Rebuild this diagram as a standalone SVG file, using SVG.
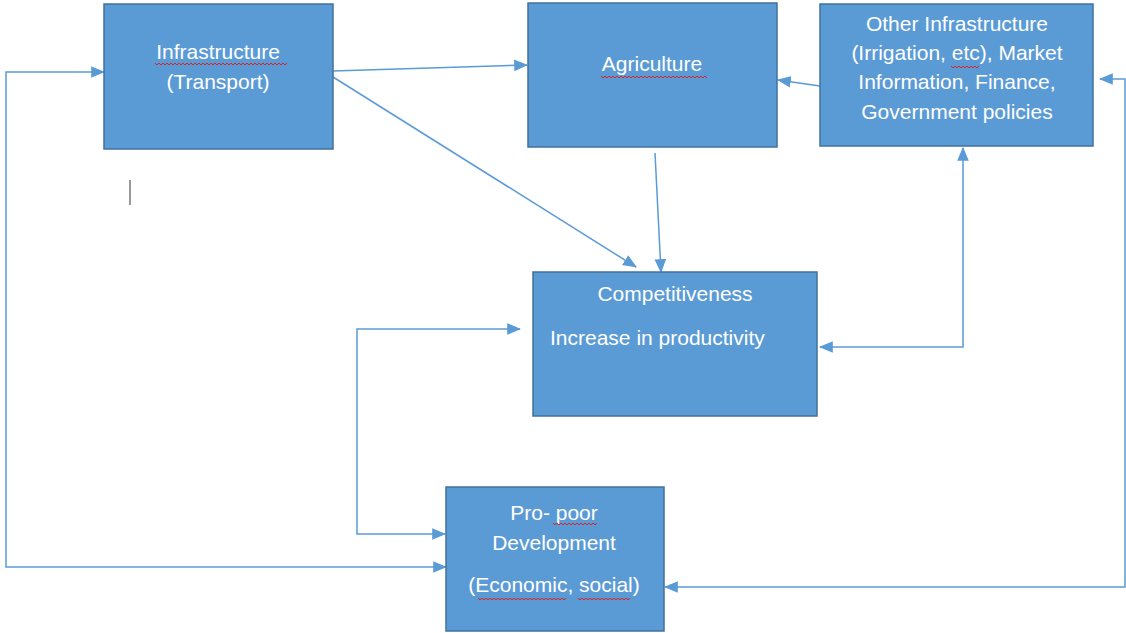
<svg xmlns="http://www.w3.org/2000/svg" width="1126" height="633" viewBox="0 0 1126 633">
<style>
.box{fill:#5B9BD5;stroke:#41719C;stroke-width:1.5}
.t{font-family:"Liberation Sans",Arial,sans-serif;font-size:21px;fill:#FFFFFF}
.c{fill:none;stroke:#5B9BD5;stroke-width:1.5}
.sq{fill:none;stroke:#E02020;stroke-width:1}
</style>
<defs>
<marker id="ah" markerUnits="userSpaceOnUse" markerWidth="14" markerHeight="12" refX="11" refY="5" orient="auto-start-reverse" viewBox="0 0 12 10">
<path d="M0,0 L12,5 L0,10 Z" fill="#5B9BD5"/>
</marker>
</defs>
<rect width="1126" height="633" fill="#FFFFFF"/>
<g id="connectors">
<path class="c" d="M104,72 L6,72 L6,567 L446,567" marker-start="url(#ah)" marker-end="url(#ah)"/>
<path class="c" d="M520,329 L357,329 L357,534 L445,534" marker-start="url(#ah)" marker-end="url(#ah)"/>
<path class="c" d="M333,71 L527,65" marker-end="url(#ah)"/>
<path class="c" d="M333,77 L636,267" marker-end="url(#ah)"/>
<path class="c" d="M655,153 L661,272" marker-end="url(#ah)"/>
<path class="c" d="M820,86 L778,80" marker-end="url(#ah)"/>
<path class="c" d="M963,148 L963,347 L820,347" marker-start="url(#ah)" marker-end="url(#ah)"/>
<path class="c" d="M1100,79 L1125,79 L1125,587 L665,587" marker-start="url(#ah)" marker-end="url(#ah)"/>
</g>
<g id="infrastructure">
<rect class="box" x="104" y="4" width="229" height="145"/>
<text class="t" x="218" y="59" text-anchor="middle">Infrastructure</text>
<text class="t" x="218" y="89" text-anchor="middle">(Transport)</text>
<path class="sq" d="M155,63 l2,2 l2,-2 l2,2 l2,-2 l2,2 l2,-2 l2,2 l2,-2 l2,2 l2,-2 l2,2 l2,-2 l2,2 l2,-2 l2,2 l2,-2 l2,2 l2,-2 l2,2 l2,-2 l2,2 l2,-2 l2,2 l2,-2 l2,2 l2,-2 l2,2 l2,-2 l2,2 l2,-2 l2,2 l2,-2 l2,2 l2,-2 l2,2 l2,-2 l2,2 l2,-2 l2,2 l2,-2 l2,2 l2,-2 l2,2 l2,-2 l2,2 l2,-2 l2,2 l2,-2 l2,2 l2,-2 l2,2 l2,-2 l2,2 l2,-2 l2,2 l2,-2 l2,2 l2,-2 l2,2 l2,-2 l2,2 l2,-2 l2,2 l2,-2 l2,2 l2,-2"/>
</g>
<g id="agriculture">
<rect class="box" x="528" y="3" width="249" height="144"/>
<text class="t" x="652" y="71" text-anchor="middle">Agriculture</text>
<path class="sq" d="M601,76 l2,2 l2,-2 l2,2 l2,-2 l2,2 l2,-2 l2,2 l2,-2 l2,2 l2,-2 l2,2 l2,-2 l2,2 l2,-2 l2,2 l2,-2 l2,2 l2,-2 l2,2 l2,-2 l2,2 l2,-2 l2,2 l2,-2 l2,2 l2,-2 l2,2 l2,-2 l2,2 l2,-2 l2,2 l2,-2 l2,2 l2,-2 l2,2 l2,-2 l2,2 l2,-2 l2,2 l2,-2 l2,2 l2,-2 l2,2 l2,-2 l2,2 l2,-2 l2,2 l2,-2 l2,2 l2,-2 l2,2 l2,-2 l2,2"/>
</g>
<g id="other-infrastructure">
<rect class="box" x="820" y="4" width="273" height="142"/>
<text class="t" x="957" y="31" text-anchor="middle">Other Infrastructure</text>
<text class="t" x="957" y="60" text-anchor="middle">(Irrigation, etc), Market</text>
<text class="t" x="957" y="89" text-anchor="middle">Information, Finance,</text>
<text class="t" x="957" y="119" text-anchor="middle">Government policies</text>
<path class="sq" d="M951,66 l2,2 l2,-2 l2,2 l2,-2 l2,2 l2,-2 l2,2 l2,-2 l2,2 l2,-2 l2,2 l2,-2 l2,2 l2,-2"/>
</g>
<g id="competitiveness">
<rect class="box" x="533" y="272" width="284" height="144"/>
<text class="t" x="675" y="301" text-anchor="middle">Competitiveness</text>
<text class="t" x="550" y="345">Increase in productivity</text>
</g>
<g id="pro-poor">
<rect class="box" x="446" y="487" width="218" height="144"/>
<text class="t" x="554" y="520" text-anchor="middle">Pro- poor</text>
<text class="t" x="554" y="550" text-anchor="middle">Development</text>
<text class="t" x="554" y="592" text-anchor="middle">(Economic, social)</text>
<path class="sq" d="M553,523 l2,2 l2,-2 l2,2 l2,-2 l2,2 l2,-2 l2,2 l2,-2 l2,2 l2,-2 l2,2 l2,-2 l2,2 l2,-2 l2,2 l2,-2 l2,2 l2,-2 l2,2 l2,-2 l2,2 l2,-2"/>
<path class="sq" d="M478,598 l2,2 l2,-2 l2,2 l2,-2 l2,2 l2,-2 l2,2 l2,-2 l2,2 l2,-2 l2,2 l2,-2 l2,2 l2,-2 l2,2 l2,-2 l2,2 l2,-2 l2,2 l2,-2 l2,2 l2,-2 l2,2 l2,-2 l2,2 l2,-2 l2,2 l2,-2 l2,2 l2,-2 l2,2 l2,-2 l2,2 l2,-2 l2,2 l2,-2 l2,2 l2,-2 l2,2 l2,-2 l2,2 l2,-2 l2,2 l2,-2"/>
<path class="sq" d="M578,598 l2,2 l2,-2 l2,2 l2,-2 l2,2 l2,-2 l2,2 l2,-2 l2,2 l2,-2 l2,2 l2,-2 l2,2 l2,-2 l2,2 l2,-2 l2,2 l2,-2 l2,2 l2,-2 l2,2 l2,-2 l2,2 l2,-2 l2,2 l2,-2"/>
</g>
<line x1="130" y1="180" x2="130" y2="205" stroke="#555555" stroke-width="1.2"/>
</svg>
